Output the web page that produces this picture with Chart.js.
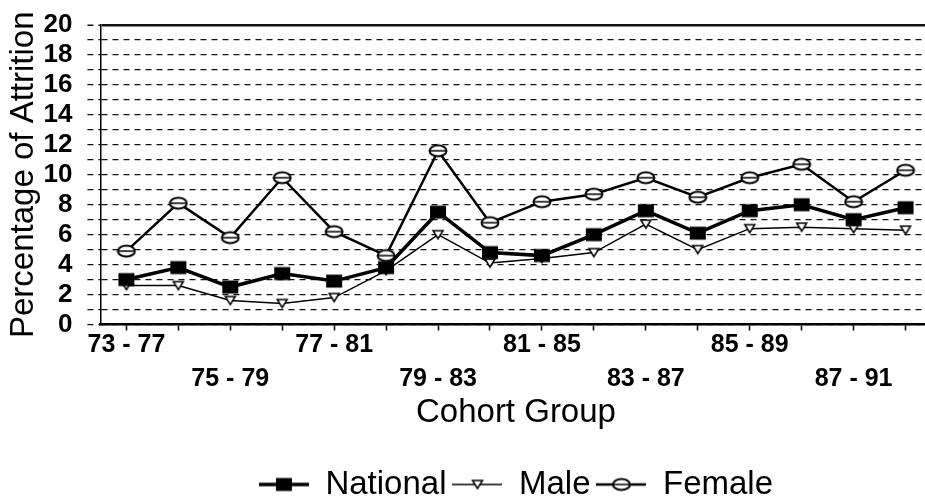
<!DOCTYPE html>
<html>
<head>
<meta charset="utf-8">
<script src="https://cdn.jsdelivr.net/npm/chart.js@4/dist/chart.umd.min.js"></script>
<style>
  html, body { margin: 0; padding: 0; background: #fff; overflow: hidden; }
  #wrap { width: 940px; height: 511px; }
</style>
</head>
<body>
<div id="wrap"><canvas id="attrition" width="940" height="511"></canvas></div>
<script>
// Cohort groups (one point per group)
const cohorts = ['73 - 77', '74 - 78', '75 - 79', '76 - 80', '77 - 81', '78 - 82', '79 - 83', '80 - 84',
                 '81 - 85', '82 - 86', '83 - 87', '84 - 88', '85 - 89', '86 - 90', '87 - 91', '88 - 92'];

// Percentage of attrition
const national = [3.0, 3.8, 2.5, 3.4, 2.9, 3.8, 7.5, 4.8, 4.6, 6.0, 7.6, 6.1, 7.6, 8.0, 7.0, 7.8];
const male     = [2.6, 2.6, 1.6, 1.4, 1.8, 3.6, 6.0, 4.1, 4.4, 4.8, 6.7, 5.0, 6.4, 6.5, 6.4, 6.3];
const female   = [4.9, 8.1, 5.8, 9.8, 6.2, 4.6, 11.6, 6.8, 8.2, 8.7, 9.8, 8.5, 9.8, 10.7, 8.2, 10.3];

const seriesNames = ['National', 'Male', 'Female'];
const yMin = 0, yMax = 20;

// --- small canvases used as point markers ---
function drawMarker(ctx, kind, cx, cy) {
    ctx.strokeStyle = '#000';
    ctx.fillStyle = '#000';
    if (kind === 'square') {
        ctx.fillRect(cx - 8, cy - 6.5, 16, 13);
    } else if (kind === 'tri') {
        ctx.lineWidth = 1.5;
        ctx.fillStyle = '#fff';
        ctx.beginPath();
        ctx.moveTo(cx - 5, cy - 4);
        ctx.lineTo(cx + 5, cy - 4);
        ctx.lineTo(cx, cy + 4);
        ctx.closePath();
        ctx.fill();
        ctx.stroke();
    } else {
        ctx.lineWidth = 2;
        ctx.fillStyle = '#fff';
        ctx.beginPath();
        ctx.ellipse(cx, cy, 8.5, 5.5, 0, 0, Math.PI * 2);
        ctx.fill();
        ctx.stroke();
        ctx.lineWidth = 1.5;
        ctx.beginPath();
        ctx.moveTo(cx - 8, cy);
        ctx.lineTo(cx + 8, cy);
        ctx.stroke();
    }
}

function pointImage(kind) {
    const c = document.createElement('canvas');
    c.width = 20; c.height = 16;
    drawMarker(c.getContext('2d'), kind, 10, 8);
    return c;
}

function legendImage(kind, lineW) {
    const c = document.createElement('canvas');
    c.width = 50; c.height = 16;
    const ctx = c.getContext('2d');
    ctx.strokeStyle = '#000';
    ctx.lineWidth = lineW;
    ctx.beginPath();
    ctx.moveTo(0, 8);
    ctx.lineTo(50, 8);
    ctx.stroke();
    drawMarker(ctx, kind, 25, 8);
    return c;
}

const markers = ['square', 'tri', 'ellipse'];
const lineWidths = [3.5, 1.5, 2.5];
const values = [national, male, female];

new Chart(document.getElementById('attrition'), {
    type: 'line',
    data: {
        labels: cohorts,
        datasets: seriesNames.map((name, i) => ({
            label: name,
            data: values[i],
            borderColor: '#000',
            borderWidth: lineWidths[i],
            tension: 0,
            pointStyle: pointImage(markers[i]),
            pointRadius: 5
        }))
    },
    options: {
        responsive: false,
        animation: false,
        devicePixelRatio: 1,
        layout: { padding: { top: 25, right: 6, left: 0, bottom: 0 } },
        plugins: {
            tooltip: { enabled: false },
            legend: {
                position: 'bottom',
                fullSize: false,
                labels: {
                    color: '#000',
                    font: { family: "'Liberation Sans', Arial, sans-serif", size: 33 },
                    usePointStyle: true,
                    pointStyleWidth: 50,
                    padding: 6,
                    generateLabels: chart => chart.data.datasets.map((ds, i) => ({
                        text: ds.label,
                        datasetIndex: i,
                        fontColor: '#000',
                        pointStyle: legendImage(markers[i], lineWidths[i]),
                        hidden: false
                    }))
                }
            }
        },
        scales: {
            x: {
                offset: true,
                grid: {
                    offset: false,
                    drawOnChartArea: false,
                    tickLength: 6,
                    tickWidth: 1.5,
                    tickColor: '#000'
                },
                border: { color: '#000', width: 2.5 },
                ticks: {
                    autoSkip: false,
                    maxRotation: 0,
                    minRotation: 0,
                    padding: -2,
                    color: '#000',
                    font: { family: "'Liberation Sans', Arial, sans-serif", size: 25, weight: 'bold', lineHeight: 1.36 },
                    callback: (val, i) => i % 2 ? '' : (i % 4 === 0 ? cohorts[i] : ['', cohorts[i]])
                },
                title: {
                    display: true,
                    text: 'Cohort Group',
                    color: '#000',
                    font: { family: "'Liberation Sans', Arial, sans-serif", size: 33, lineHeight: 1 },
                    padding: { top: 1.5, bottom: 33 }
                }
            },
            y: {
                min: yMin,
                max: yMax,
                grid: {
                    color: '#111',
                    lineWidth: c => (c.tick && c.tick.value === yMax ? 2.5 : 1.3),
                    tickLength: 13,
                    tickWidth: 1.3,
                    tickColor: '#111',
                    tickBorderDash: [6, 5]
                },
                border: {
                    color: '#000',
                    width: 1.5,
                    dash: c => (c.tick && c.tick.value === yMax ? [] : [6, 5])
                },
                ticks: {
                    stepSize: 1,
                    autoSkip: false,
                    maxTicksLimit: 25,
                    padding: 15,
                    color: '#000',
                    font: { family: "'Liberation Sans', Arial, sans-serif", size: 26, weight: 'bold', lineHeight: 0.5 },
                    callback: v => (v % 2 === 0 ? v : '')
                },
                title: {
                    display: true,
                    text: 'Percentage of Attrition',
                    color: '#000',
                    font: { family: "'Liberation Sans', Arial, sans-serif", size: 33, lineHeight: 1 },
                    padding: { top: 7.5, bottom: -12 }
                }
            }
        }
    }
});
</script>
</body>
</html>
